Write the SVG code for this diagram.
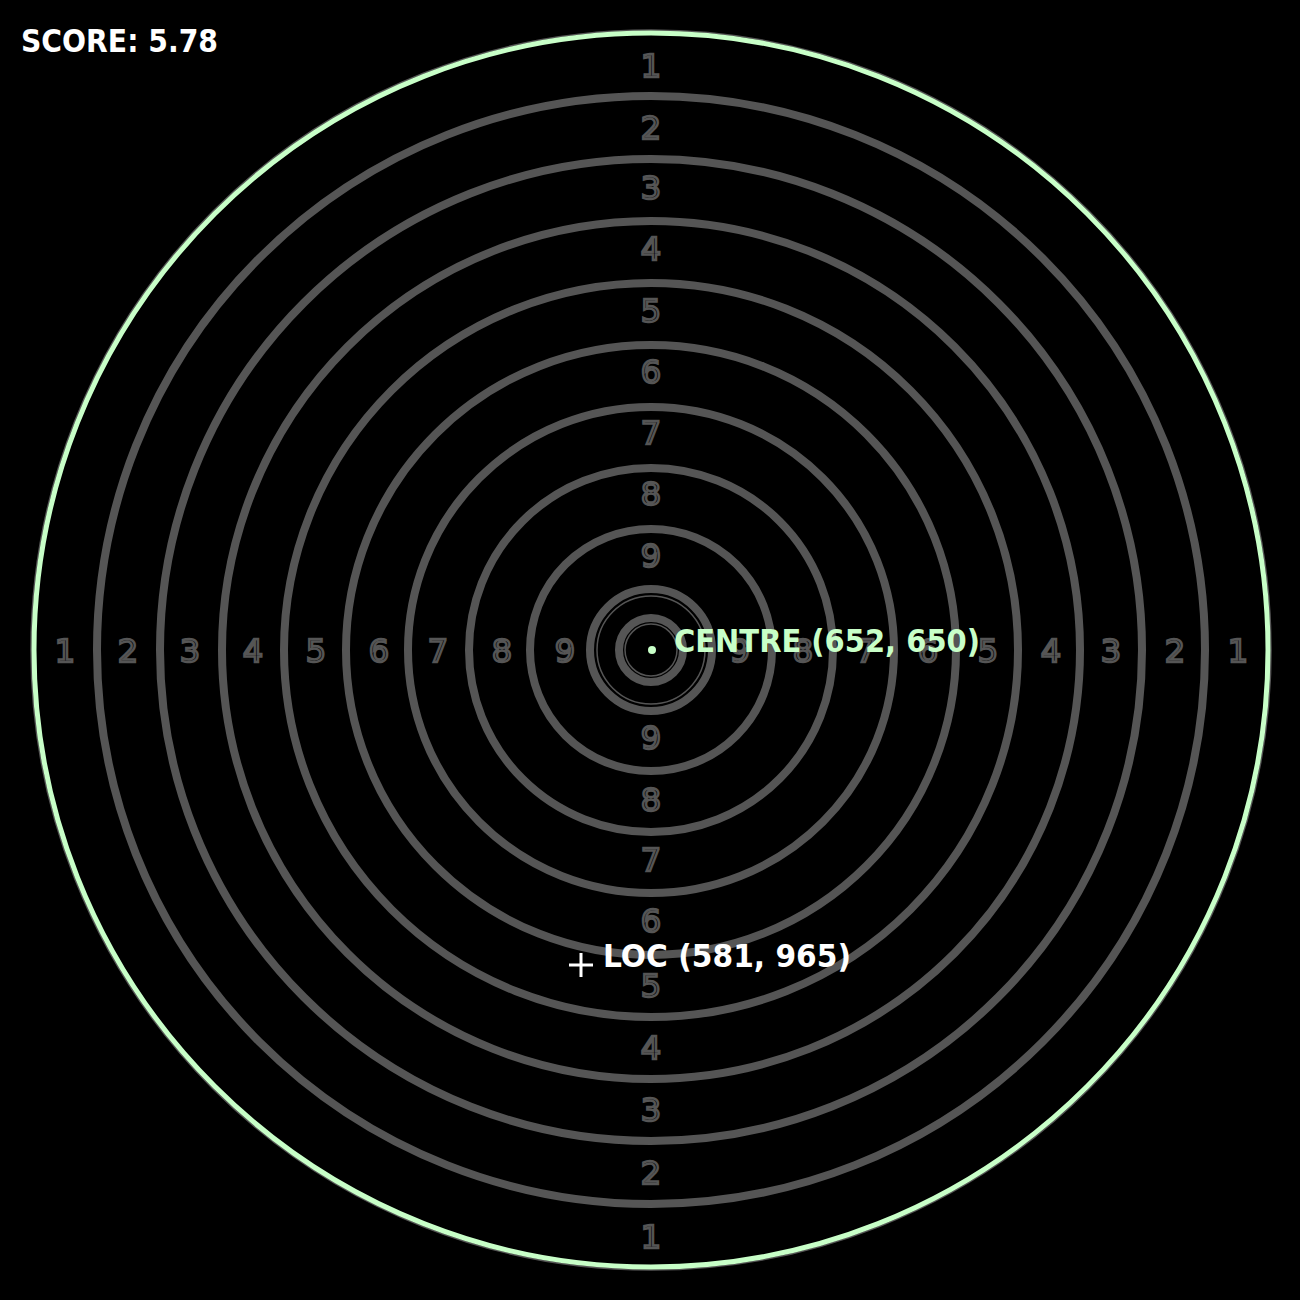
<svg xmlns="http://www.w3.org/2000/svg" width="1300" height="1300" viewBox="0 0 1300 1300">
<style>
.ring{fill:none;stroke:#555555;stroke-width:8}
.thin{fill:none;stroke:#555555;stroke-width:1.5}
.num{font-family:"DejaVu Sans",sans-serif;font-size:32px;fill:none;stroke:#555555;stroke-width:2.4;text-anchor:middle}
.lbl{font-family:"DejaVu Sans","Liberation Sans",sans-serif;font-size:32px;font-weight:bold}
</style>
<rect width="1300" height="1300" fill="#000000"/>
<g id="rings">
<circle class="thin" cx="651" cy="650" r="620"/>
<circle class="ring" cx="651" cy="650" r="554"/>
<circle class="ring" cx="651" cy="650" r="491"/>
<circle class="ring" cx="651" cy="650" r="429"/>
<circle class="ring" cx="651" cy="650" r="367"/>
<circle class="ring" cx="651" cy="650" r="305"/>
<circle class="ring" cx="651" cy="650" r="243"/>
<circle class="ring" cx="651" cy="650" r="182"/>
<circle class="ring" cx="651" cy="650" r="121"/>
<circle class="ring" cx="651" cy="650" r="61"/>
<circle class="thin" cx="651" cy="650" r="54"/>
<circle class="ring" cx="651" cy="650" r="32"/>
<circle class="thin" cx="651" cy="650" r="26"/>
</g>
<g id="outer-ring">
<circle cx="651" cy="650" r="617" fill="none" stroke="#c8ffc8" stroke-width="5"/>
</g>
<g id="numbers">
<text class="num" x="651" y="77">1</text>
<text class="num" x="651" y="139">2</text>
<text class="num" x="651" y="199">3</text>
<text class="num" x="651" y="260">4</text>
<text class="num" x="651" y="322">5</text>
<text class="num" x="651" y="383">6</text>
<text class="num" x="651" y="444">7</text>
<text class="num" x="651" y="505">8</text>
<text class="num" x="651" y="567">9</text>
<text class="num" x="651" y="749">9</text>
<text class="num" x="651" y="811">8</text>
<text class="num" x="651" y="871">7</text>
<text class="num" x="651" y="932">6</text>
<text class="num" x="651" y="997">5</text>
<text class="num" x="651" y="1059">4</text>
<text class="num" x="651" y="1121">3</text>
<text class="num" x="651" y="1184">2</text>
<text class="num" x="651" y="1248">1</text>
<text class="num" x="65" y="662">1</text>
<text class="num" x="128" y="662">2</text>
<text class="num" x="190" y="662">3</text>
<text class="num" x="253" y="662">4</text>
<text class="num" x="316" y="662">5</text>
<text class="num" x="379" y="662">6</text>
<text class="num" x="438" y="662">7</text>
<text class="num" x="502" y="662">8</text>
<text class="num" x="565" y="662">9</text>
<text class="num" x="740" y="662">9</text>
<text class="num" x="803" y="662">8</text>
<text class="num" x="866" y="662">7</text>
<text class="num" x="928" y="662">6</text>
<text class="num" x="988" y="662">5</text>
<text class="num" x="1051" y="662">4</text>
<text class="num" x="1111" y="662">3</text>
<text class="num" x="1175" y="662">2</text>
<text class="num" x="1238" y="662">1</text>
</g>
<g id="score">
<text class="lbl" x="21" y="52" fill="#ffffff" textLength="197" lengthAdjust="spacingAndGlyphs">SCORE: 5.78</text>
</g>
<g id="centre">
<circle cx="652" cy="650" r="4" fill="#c8ffc8"/>
<text class="lbl" x="674" y="652" fill="#c8ffc8" textLength="306" lengthAdjust="spacingAndGlyphs">CENTRE (652, 650)</text>
</g>
<g id="loc">
<path d="M569 965 H593 M581 953 V977" stroke="#ffffff" stroke-width="3" fill="none"/>
<text class="lbl" x="603" y="967" fill="#ffffff" textLength="248" lengthAdjust="spacingAndGlyphs">LOC (581, 965)</text>
</g>
</svg>
